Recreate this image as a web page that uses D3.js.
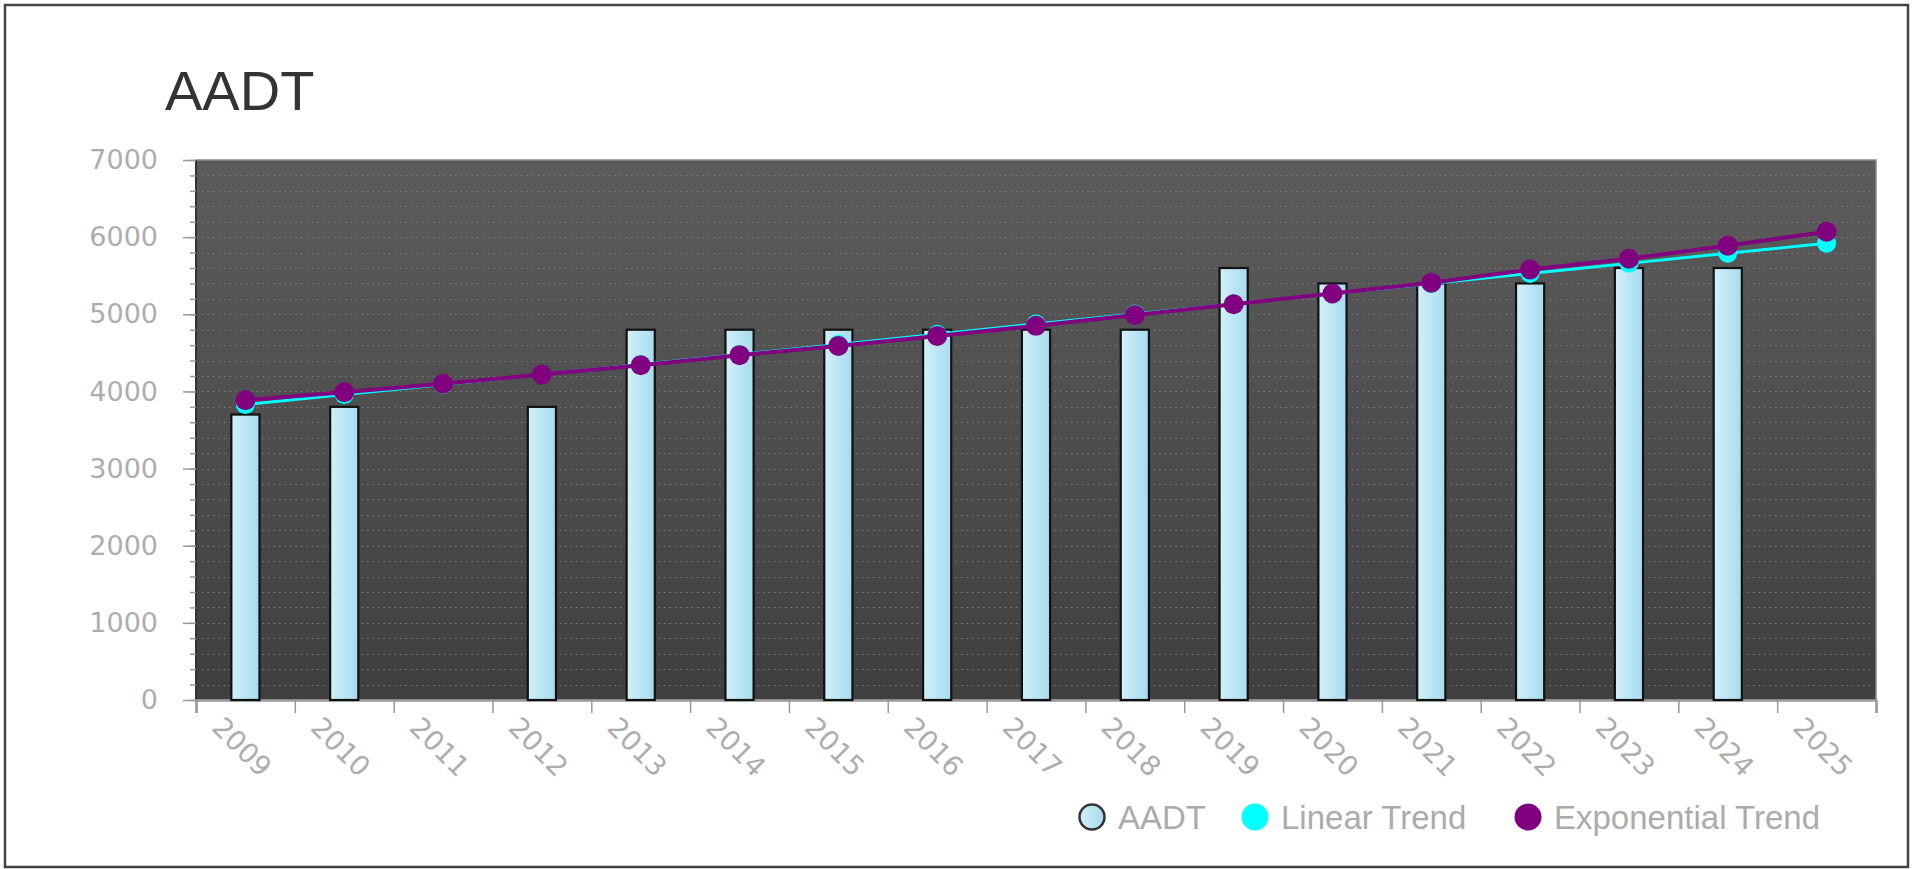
<!DOCTYPE html>
<html>
<head>
<meta charset="utf-8">
<script src="https://cdn.jsdelivr.net/npm/d3@7"></script>
<style>
  html, body { margin: 0; padding: 0; background: #ffffff; }
  svg { display: block; }
</style>
</head>
<body>
<svg id="chart" width="1922" height="869"></svg>
<script>
// Annual average daily traffic, with fitted trend lines
const years = ["2009","2010","2011","2012","2013","2014","2015","2016","2017",
               "2018","2019","2020","2021","2022","2023","2024","2025"];
const aadt = [3700, 3800, null, 3800, 4800, 4800, 4800, 4800, 4800,
              4800, 5600, 5400, 5400, 5400, 5600, 5600, null];
const linearTrend = [3830, 3960, 4090, 4220, 4350, 4480, 4610, 4740, 4875,
                     5005, 5135, 5265, 5400, 5530, 5660, 5790, 5920];
const exponentialTrend = [3885, 3990, 4100, 4220, 4340, 4470, 4590, 4720, 4850,
                          4990, 5130, 5270, 5410, 5580, 5720, 5890, 6070];
const yMajorTicks = [0, 1000, 2000, 3000, 4000, 5000, 6000, 7000];
const legendItems = ["AADT", "Linear Trend", "Exponential Trend"];

const svg = d3.select("#chart");
const plot = { left: 196, right: 1876, top: 160, bottom: 700 };

const defs = svg.append("defs");
const bg = defs.append("linearGradient").attr("id", "plotBg")
  .attr("x1", 0).attr("y1", 0).attr("x2", 0).attr("y2", 1);
bg.append("stop").attr("offset", "0%").attr("stop-color", "#5c5c5c");
bg.append("stop").attr("offset", "100%").attr("stop-color", "#3f3f3f");

const barGrad = defs.append("linearGradient").attr("id", "barFill")
  .attr("x1", 0).attr("y1", 0).attr("x2", 1).attr("y2", 0);
barGrad.append("stop").attr("offset", "0%").attr("stop-color", "#d2f0f9");
barGrad.append("stop").attr("offset", "100%").attr("stop-color", "#a6dbee");

const soft = defs.append("filter").attr("id", "soft")
  .attr("x", "-50%").attr("y", "-50%").attr("width", "200%").attr("height", "200%");
soft.append("feGaussianBlur").attr("stdDeviation", 0.7);

// outer frame
svg.append("rect")
  .attr("x", 5).attr("y", 5).attr("width", 1903).attr("height", 862)
  .attr("fill", "#ffffff").attr("stroke", "#444444").attr("stroke-width", 2.5);

// title
svg.append("text")
  .attr("x", 165).attr("y", 110)
  .attr("font-family", "Liberation Sans, Arial, sans-serif")
  .attr("font-size", 56).attr("fill", "#333333")
  .text("AADT");

// scales
const x = d3.scaleBand().domain(years).range([plot.left, plot.right]).padding(0);
const xEdge = d3.scaleLinear().domain([0, years.length]).range([plot.left, plot.right]);
const y = d3.scaleLinear().domain([0, 7000]).range([plot.bottom, plot.top]);

// plot background
svg.append("rect")
  .attr("x", plot.left).attr("y", plot.top)
  .attr("width", plot.right - plot.left).attr("height", plot.bottom - plot.top)
  .attr("fill", "url(#plotBg)").attr("stroke", "#8a8a8a").attr("stroke-width", 1.5);

// dotted grid every 200
const gridVals = d3.range(200, 7000, 200);
svg.append("g").selectAll("line").data(gridVals).join("line")
  .attr("x1", plot.left + 6).attr("x2", plot.right - 2)
  .attr("y1", d => Math.round(y(d)) + 0.5).attr("y2", d => Math.round(y(d)) + 0.5)
  .attr("stroke", "#7e7e7e").attr("stroke-width", 1)
  .attr("stroke-dasharray", "1.5,4");

// left edge of plot
svg.append("line")
  .attr("x1", plot.left).attr("x2", plot.left)
  .attr("y1", plot.top).attr("y2", plot.bottom)
  .attr("stroke", "#333333").attr("stroke-width", 2);

// y axis: minor ticks
const yMinor = svg.append("g").attr("transform", `translate(${plot.left},0)`)
  .call(d3.axisLeft(y).tickValues(d3.range(0, 7001, 200)).tickSize(6).tickFormat(""));
yMinor.select(".domain").remove();
yMinor.selectAll(".tick line").attr("stroke", "#9a9a9a").attr("stroke-width", 1.5);

// y axis: major ticks + labels
const yMajor = svg.append("g").attr("transform", `translate(${plot.left},0)`)
  .call(d3.axisLeft(y).tickValues(yMajorTicks).tickSize(13).tickPadding(25)
    .tickFormat(d3.format("d")));
yMajor.select(".domain").remove();
yMajor.selectAll(".tick line").attr("stroke", "#9a9a9a").attr("stroke-width", 1.5);
yMajor.selectAll(".tick text")
  .attr("font-family", "DejaVu Sans, Verdana, sans-serif")
  .attr("font-size", 27).attr("fill", "#adadad");

// x axis: ticks at category boundaries
const xAxis = svg.append("g").attr("transform", `translate(0,${plot.bottom})`)
  .call(d3.axisBottom(xEdge).tickValues(d3.range(0, years.length + 1)).tickSize(13).tickFormat(""));
xAxis.select(".domain").attr("stroke", "#999999").attr("stroke-width", 2.5);
xAxis.selectAll(".tick line").attr("stroke", "#999999").attr("stroke-width", 1.5);

// rotated year labels
svg.append("g").selectAll("text").data(years).join("text")
  .attr("transform", d => `translate(${x(d) + x.bandwidth() / 2 - 35},729) rotate(45)`)
  .attr("font-family", "DejaVu Sans, Verdana, sans-serif")
  .attr("font-size", 27.5).attr("fill", "#adadad")
  .text(d => d);

// bars
const barW = x.bandwidth() * 0.285;
svg.append("g").selectAll("rect")
  .data(years.map((yr, i) => ({ yr, v: aadt[i] })).filter(d => d.v != null))
  .join("rect")
  .attr("x", d => x(d.yr) + x.bandwidth() / 2 - barW / 2)
  .attr("y", d => y(d.v))
  .attr("width", barW)
  .attr("height", d => y(0) - y(d.v))
  .attr("fill", "url(#barFill)")
  .attr("stroke", "#111111").attr("stroke-width", 2.2);

// trend series
function drawTrend(values, color, lineW, r) {
  const pts = years.map((yr, i) => [x(yr) + x.bandwidth() / 2, y(values[i])]);
  const g = svg.append("g").attr("filter", "url(#soft)");
  g.append("path")
    .attr("d", d3.line()(pts))
    .attr("fill", "none").attr("stroke", color).attr("stroke-width", lineW)
    .attr("stroke-linejoin", "round");
  g.selectAll("circle").data(pts).join("circle")
    .attr("cx", d => d[0]).attr("cy", d => d[1]).attr("r", r)
    .attr("fill", color);
}
drawTrend(linearTrend, "#00ffff", 3, 9.5);
drawTrend(exponentialTrend, "#800080", 4, 10);

// legend
const legend = svg.append("g")
  .attr("font-family", "Liberation Sans, Arial, sans-serif")
  .attr("font-size", 33).attr("fill", "#ababab");
const legendX = [1092, 1255, 1528];
const legendColors = ["url(#barFill)", "#00ffff", "#800080"];
legendItems.forEach((name, i) => {
  legend.append("circle")
    .attr("cx", legendX[i]).attr("cy", 817).attr("r", i === 0 ? 12.5 : 13.5)
    .attr("fill", legendColors[i])
    .attr("stroke", i === 0 ? "#333333" : "none").attr("stroke-width", 2.5);
  legend.append("text")
    .attr("x", legendX[i] + 26).attr("y", 829)
    .text(name);
});
</script>
</body>
</html>
